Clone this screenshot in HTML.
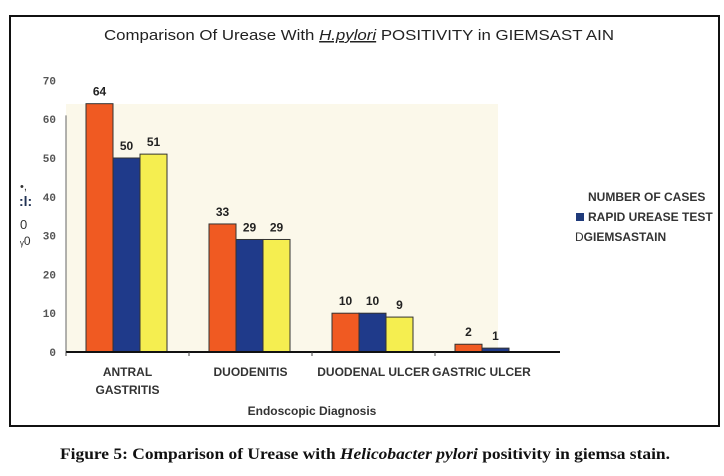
<!DOCTYPE html>
<html><head><meta charset="utf-8"><style>
body{margin:0;background:#fff;width:724px;height:476px;overflow:hidden;font-family:"Liberation Sans",sans-serif}
svg{display:block}
</style></head><body>
<svg width="724" height="476">
<rect x="10" y="16" width="709" height="410" fill="#fff" stroke="#111" stroke-width="2"/>
<text x="104" y="40" textLength="510" lengthAdjust="spacingAndGlyphs" font-size="15" fill="#222">Comparison Of Urease With <tspan font-style="italic" text-decoration="underline">H.pylori</tspan> POSITIVITY in  GIEMSAST AIN</text>
<rect x="66" y="104" width="432" height="248" fill="#fbf8ea"/>
<g id="yaxis"></g>
<g id="bars"></g>
<g id="xaxis"></g>
<text x="20" y="190" font-size="11" fill="#333">•,</text>
<text x="19" y="206" font-size="14" font-weight="bold" fill="#235">:l:</text>
<text x="20" y="229" font-size="13" fill="#333">0</text>
<text x="20" y="245" font-size="12" fill="#333">ᵧ0</text>
<text x="312" y="415" text-anchor="middle" font-size="12" font-weight="bold" fill="#333">Endoscopic Diagnosis</text>
<g>
<text x="588" y="201" font-size="12" font-weight="bold" fill="#333">NUMBER OF CASES</text>
<rect x="576" y="213" width="8" height="8" fill="#1f3a7a"/>
<text x="588" y="221" font-size="12" font-weight="bold" fill="#333">RAPID UREASE TEST</text>
<text x="575" y="241" font-size="12" font-weight="bold" fill="#333"><tspan font-weight="normal">D</tspan>GIEMSASTAIN</text>
</g>
<text x="60" y="459" textLength="610" lengthAdjust="spacingAndGlyphs" font-family="Liberation Serif,serif" font-size="16" font-weight="bold" fill="#111">Figure 5: Comparison of Urease with <tspan font-style="italic">Helicobacter pylori</tspan> positivity in giemsa stain.</text>
</svg>
<script>
const categories=[["ANTRAL","GASTRITIS"],["DUODENITIS"],["DUODENAL ULCER"],["GASTRIC ULCER"]];
const series1=[64,33,10,2];
const series2=[50,29,10,1];
const series3=[51,29,9,0];
const yTicks=[0,10,20,30,40,50,60,70];
const colors=["#f05a22","#1f3a8a","#f5ee50"];
const NS="http://www.w3.org/2000/svg";
const y0=352,unit=3.88,x0=66,cw=123,bw=27,off=20;
const Y=v=>y0-v*unit;
const X=i=>x0+i*cw;
function mk(t,a,p,txt){const e=document.createElementNS(NS,t);for(const k in a)e.setAttribute(k,a[k]);if(txt!==undefined)e.textContent=txt;p.appendChild(e);return e;}
const ya=document.getElementById('yaxis'),bg=document.getElementById('bars'),xa=document.getElementById('xaxis');
mk('line',{x1:x0,y1:Y(61),x2:x0,y2:y0,stroke:'#666'},ya);
yTicks.forEach(t=>{const e=mk('text',{x:56,y:Y(t)+4,'text-anchor':'end','font-size':11,'font-weight':'bold','font-family':'Liberation Mono,monospace',fill:'#555'},ya,t);

});
const all=[series1,series2,series3];
all.forEach((s,si)=>s.forEach((v,i)=>{
 const x=X(i)+off+si*bw;
 if(v>0){const r=mk('rect',{x:x,y:Y(v),width:bw,height:v*unit,fill:colors[si],stroke:'#333','stroke-width':1},bg);
 
 }
 if(v>0){const l=mk('text',{x:x+bw/2,y:Y(v)-8,'text-anchor':'middle','font-size':12,'font-weight':'bold',fill:'#222'},bg,v);
 
 }
}));
mk('line',{x1:x0,y1:y0,x2:560,y2:y0,stroke:'#111','stroke-width':2},xa);
for(let i=0;i<=3;i++){mk('line',{x1:X(i),y1:y0,x2:X(i),y2:y0+4,stroke:'#444'},xa);}
categories.forEach((c,i)=>c.forEach((ln,j)=>{const t=mk('text',{x:X(i)+cw/2+(i==3?-15:0),y:376+j*18,'text-anchor':'middle','font-size':12,'font-weight':'bold',fill:'#333'},xa,ln);

}));
</script>
</body></html>
